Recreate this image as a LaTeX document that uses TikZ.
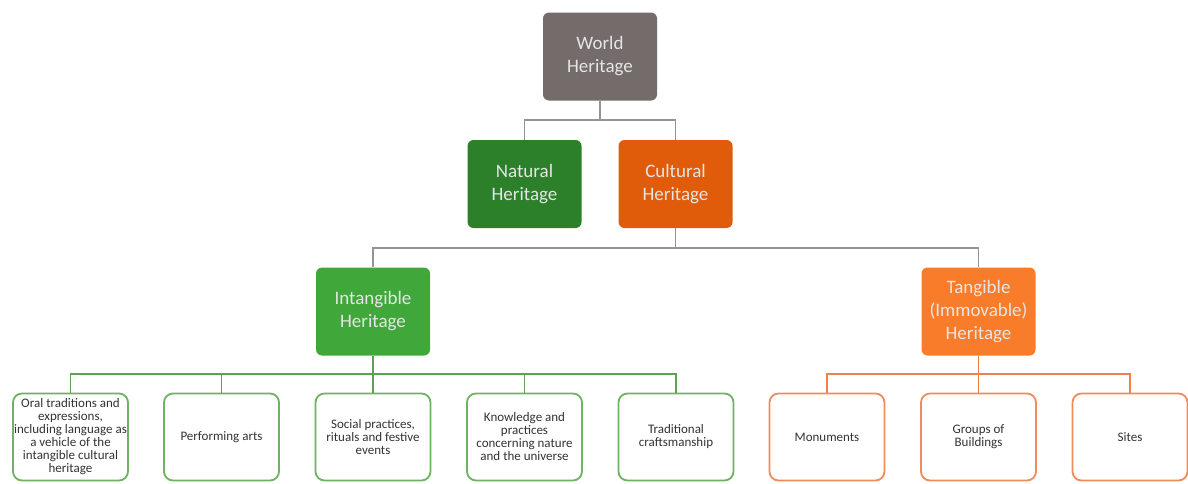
\documentclass[tikz,border=0pt]{standalone}
\usepackage{fontspec}
\setmainfont{Carlito}
\begin{document}
\begin{tikzpicture}[x=1pt,y=-1pt,
  topbox/.style={rectangle, rounded corners=6pt, minimum width=114pt, minimum height=88pt,
    inner sep=2pt, align=center, text=white!90!black,
    font=\fontsize{19}{23}\selectfont},
  leafbox/.style={rectangle, rounded corners=9pt, minimum width=115pt, minimum height=87pt,
    line width=1.8pt, fill=white, inner sep=1pt, align=center, text=black!80,
    font=\fontsize{13}{13}\selectfont},
  grayline/.style={draw=black!42, line width=1.4pt},
  greenline/.style={draw=greenln, line width=1.4pt},
  orangeline/.style={draw=orangeln, line width=1.4pt}]
\definecolor{worldc}{RGB}{116,107,107}
\definecolor{naturalc}{RGB}{44,128,42}
\definecolor{culturalc}{RGB}{224,92,10}
\definecolor{intangc}{RGB}{64,168,58}
\definecolor{tangc}{RGB}{249,124,42}
\definecolor{greenln}{RGB}{96,160,84}
\definecolor{orangeln}{RGB}{238,128,78}
\definecolor{greenbd}{RGB}{112,178,100}
\definecolor{orangebd}{RGB}{240,140,92}
\useasboundingbox (0,0) rectangle (1188,483);
\fill[white] (0,0) rectangle (1188,483);

\node[topbox, fill=worldc] (W) at (600,56.5) {World\\Heritage};
\node[topbox, fill=naturalc] (N) at (524.5,184) {Natural\\Heritage};
\node[topbox, fill=culturalc] (C) at (675.5,184) {Cultural\\Heritage};
\node[topbox, fill=intangc] (I) at (373,311.5) {Intangible\\Heritage};
\node[topbox, fill=tangc] (T) at (978.5,311.5) {Tangible\\(Immovable)\\Heritage};

\node[leafbox, draw=greenbd] (L1) at (70.5,437) {Oral traditions and\\expressions,\\including language as\\a vehicle of the\\intangible cultural\\heritage};
\node[leafbox, draw=greenbd] (L2) at (221.5,437) {Performing arts};
\node[leafbox, draw=greenbd] (L3) at (373,437) {Social practices,\\rituals and festive\\events};
\node[leafbox, draw=greenbd] (L4) at (524.5,437) {Knowledge and\\practices\\concerning nature\\and the universe};
\node[leafbox, draw=greenbd] (L5) at (676,437) {Traditional\\craftsmanship};
\node[leafbox, draw=orangebd] (R1) at (827,437) {Monuments};
\node[leafbox, draw=orangebd] (R2) at (978.5,437) {Groups of\\Buildings};
\node[leafbox, draw=orangebd] (R3) at (1130,437) {Sites};

\coordinate (j1) at (600,120);
\coordinate (j2) at (675.5,248);
\coordinate (j3) at (373,374);
\coordinate (j4) at (978.5,374);

\draw[grayline] (W.south) -- (j1);
\draw[grayline] (j1) -| (N.north);
\draw[grayline] (j1) -| (C.north);
\draw[grayline] (C.south) -- (j2);
\draw[grayline] (j2) -| (I.north);
\draw[grayline] (j2) -| (T.north);

\draw[greenline] (I.south) -- (j3);
\foreach \n in {L1,L2,L3,L4,L5} \draw[greenline] (j3) -| (\n.north);
\draw[orangeline] (T.south) -- (j4);
\foreach \n in {R1,R2,R3} \draw[orangeline] (j4) -| (\n.north);
\end{tikzpicture}
\end{document}
